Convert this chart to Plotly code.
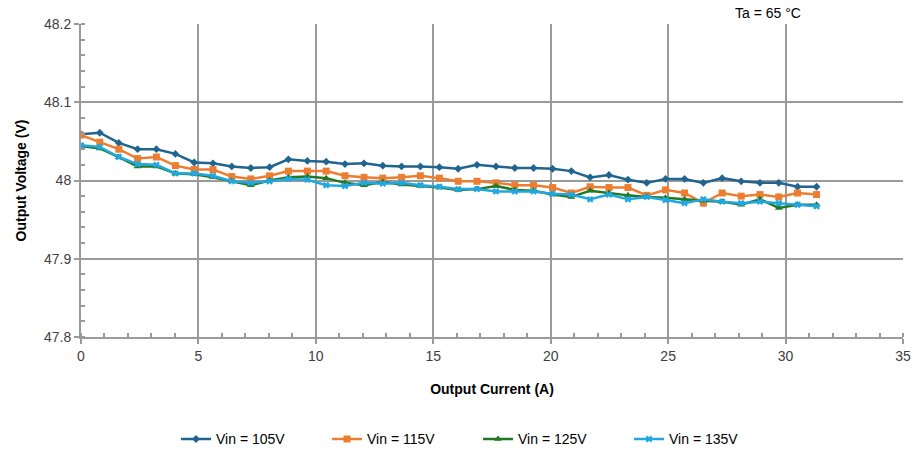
import plotly.graph_objects as go

# Output current (A) for each load step
current_a = [0.0, 0.8, 1.61, 2.41, 3.21, 4.02, 4.82, 5.62, 6.42, 7.23,
             8.03, 8.83, 9.64, 10.44, 11.24, 12.05, 12.85, 13.65, 14.45, 15.26,
             16.06, 16.86, 17.67, 18.47, 19.27, 20.08, 20.88, 21.68, 22.48, 23.29,
             24.09, 24.89, 25.7, 26.5, 27.3, 28.11, 28.91, 29.71, 30.51, 31.32]

# Output voltage (V) per input voltage
vout_105 = [48.059, 48.061, 48.048, 48.040, 48.040, 48.034, 48.023, 48.022, 48.018, 48.016,
            48.017, 48.027, 48.025, 48.024, 48.021, 48.022, 48.019, 48.018, 48.018, 48.017,
            48.015, 48.020, 48.018, 48.016, 48.016, 48.015, 48.012, 48.004, 48.007, 48.001,
            47.997, 48.002, 48.002, 47.997, 48.003, 47.999, 47.997, 47.997, 47.992, 47.992]
vout_115 = [48.058, 48.049, 48.040, 48.028, 48.030, 48.019, 48.014, 48.014, 48.005, 48.002,
            48.006, 48.012, 48.012, 48.012, 48.006, 48.004, 48.003, 48.004, 48.006, 48.003,
            47.999, 47.999, 47.997, 47.994, 47.994, 47.991, 47.984, 47.992, 47.991, 47.991,
            47.981, 47.988, 47.984, 47.971, 47.984, 47.980, 47.982, 47.979, 47.984, 47.982]
vout_125 = [48.044, 48.041, 48.030, 48.018, 48.018, 48.009, 48.008, 48.004, 47.999, 47.994,
            48.000, 48.004, 48.005, 48.003, 47.997, 47.994, 47.998, 47.995, 47.993, 47.991,
            47.988, 47.989, 47.993, 47.988, 47.987, 47.982, 47.979, 47.987, 47.984, 47.981,
            47.979, 47.978, 47.976, 47.974, 47.973, 47.969, 47.976, 47.965, 47.969, 47.969]
vout_135 = [48.045, 48.043, 48.030, 48.021, 48.020, 48.009, 48.009, 48.006, 47.999, 47.997,
            47.999, 48.002, 48.001, 47.994, 47.993, 47.997, 47.996, 47.997, 47.994, 47.992,
            47.989, 47.989, 47.986, 47.986, 47.986, 47.983, 47.982, 47.976, 47.982, 47.976,
            47.979, 47.975, 47.971, 47.976, 47.973, 47.971, 47.973, 47.971, 47.969, 47.967]

series_names = ["Vin = 105V", "Vin = 115V", "Vin = 125V", "Vin = 135V"]
series_values = [vout_105, vout_115, vout_125, vout_135]
series_colors = ["#1f6590", "#ed7d31", "#1e7a26", "#22a7e0"]
series_markers = ["diamond", "square", "triangle-up", "x"]
marker_sizes = [6, 7, 7, 6]

FONT = "Liberation Sans, Arial, sans-serif"
GRID = "#9a9a9a"

fig = go.Figure()
for name, vals, col, sym, ms in zip(series_names, series_values, series_colors,
                                    series_markers, marker_sizes):
    fig.add_trace(go.Scatter(
        x=current_a, y=vals, name=name, mode="lines+markers",
        line=dict(color=col, width=2.5),
        marker=dict(symbol=sym, size=ms, color=col, line=dict(width=0)),
    ))

axis_common = dict(
    showline=True, linecolor=GRID, linewidth=2,
    showgrid=True, gridcolor=GRID, gridwidth=2,
    ticks="outside", ticklen=5, tickcolor=GRID, tickwidth=2,
    tickfont=dict(family=FONT, size=14, color="#404040"),
    zeroline=False, automargin=False,
)

fig.update_xaxes(
    range=[0, 35], dtick=5, tick0=0,
    minor=dict(dtick=1, ticks="inside", ticklen=4, tickcolor=GRID, tickwidth=1.5, showgrid=False),
    title=dict(text="<b>Output Current (A)</b>", font=dict(family=FONT, size=14, color="#000"), standoff=21),
    **axis_common,
)
fig.update_yaxes(
    range=[47.8, 48.2],
    tickvals=[47.8, 47.9, 48.0, 48.1, 48.2],
    ticktext=["47.8", "47.9", "48", "48.1", "48.2"],
    minor=dict(dtick=0.02, ticks="inside", ticklen=4, tickcolor=GRID, tickwidth=1.5, showgrid=False),
    title=dict(text="<b>Output Voltage (V)</b>", font=dict(family=FONT, size=14, color="#000"), standoff=14),
    **axis_common,
)

fig.add_annotation(
    text="Ta = 65 °C", xref="paper", yref="paper", x=0.836, y=1.0,
    xanchor="center", yanchor="bottom", showarrow=False, yshift=1,
    font=dict(family=FONT, size=14, color="#000"),
)

fig.update_layout(
    width=917, height=453,
    margin=dict(l=81, r=14, t=24, b=116, autoexpand=False),
    paper_bgcolor="white", plot_bgcolor="white",
    showlegend=True,
    legend=dict(orientation="h", x=0.483, xanchor="center",
                yref="container", y=0.03, yanchor="middle",
                font=dict(family=FONT, size=14, color="#000"),
                tracegroupgap=0, entrywidth=106),
)

fig.write_html("out.html")
